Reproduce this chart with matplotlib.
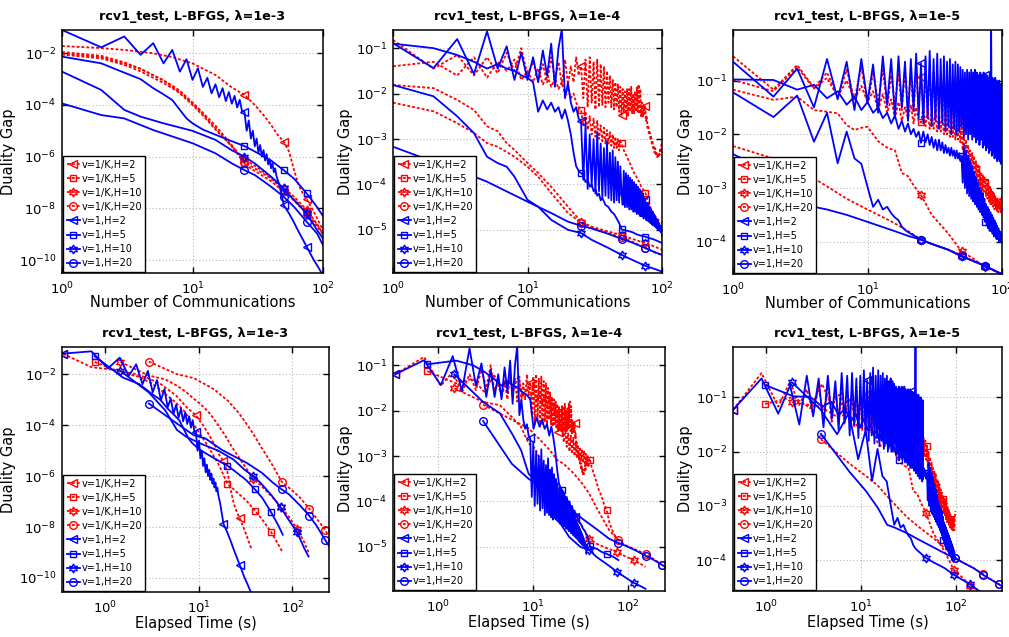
import numpy as np
import matplotlib
matplotlib.use("Agg")
import matplotlib.pyplot as plt
from matplotlib.ticker import NullLocator, FixedLocator, LogFormatterSciNotation

plt.rcParams['font.family'] = ['DejaVu Sans']
plt.rcParams['mathtext.fontset'] = 'dejavusans'

# ------------------------------------------------------------------
# DATA  (duality gap values stored as log10; x = number of communications)
# ------------------------------------------------------------------
H_LIST = [2, 5, 10, 20]
LEGEND_LABELS = ['v=1/K,H=2', 'v=1/K,H=5', 'v=1/K,H=10', 'v=1/K,H=20',
                 'v=1,H=2', 'v=1,H=5', 'v=1,H=10', 'v=1,H=20']
LAMBDA_TEXT = ['1e-3', '1e-4', '1e-5']
ROUNDS_ALL = list(range(1, 101))

# ---------------- lambda = 1e-3 ----------------
e3_red_h2_x = [1, 2, 3, 5, 7, 10, 15, 20, 25, 30, 35, 40, 45, 50, 55, 60, 65, 70, 75, 85, 100]
e3_red_h2_lg = [-1.72, -1.80, -1.87, -2.0, -2.15, -2.39, -2.84, -3.32, -3.61, -4.0, -4.39,
                -4.77, -5.16, -5.42, -5.81, -6.52, -7.1, -7.42, -7.65, -8.13, -8.84]
e3_red_h5_x = [1, 2, 3, 4, 5, 6, 7, 8, 10, 12, 15, 20, 25, 30, 40, 50, 60, 75, 90, 100]
e3_red_h5_lg = [-1.95, -2.1, -2.35, -2.6, -2.85, -3.05, -3.25, -3.45, -3.9, -4.3, -4.8,
                -5.55, -6.3, -6.55, -6.95, -7.35, -7.7, -8.2, -8.7, -9.0]
e3_red_h10_x = [1, 2, 3, 4, 5, 6, 7, 8, 10, 12, 15, 20, 25, 30, 40, 50, 60, 75, 90, 100]
e3_red_h10_lg = [-2.05, -2.2, -2.45, -2.7, -2.95, -3.15, -3.35, -3.55, -4.0, -4.4, -4.95,
                 -5.6, -6.1, -6.35, -6.8, -7.2, -7.55, -8.06, -8.6, -9.0]
e3_red_h20_x = [1, 2, 3, 4, 5, 6, 7, 8, 10, 12, 15, 20, 25, 30, 40, 50, 60, 75, 90, 100]
e3_red_h20_lg = [-2.0, -2.15, -2.4, -2.6, -2.85, -3.05, -3.3, -3.5, -3.95, -4.35, -4.9,
                 -5.6, -6.22, -6.45, -6.85, -7.28, -7.65, -8.13, -8.65, -8.95]
e3_blue_h2_x = list(range(1, 51)) + [55, 60, 65, 70, 75, 80, 85, 90, 95, 100]
e3_blue_h2_lg = [-1.1, -1.77, -1.35, -2.06, -1.61, -2.39, -1.87, -2.71, -2.23, -3.03,
                 -2.58, -3.3, -2.95, -3.55, -3.2, -3.7, -3.35, -3.85, -3.5, -3.95,
                 -3.65, -4.1, -3.8, -4.25, -4.26, -5.0, -4.6, -5.3, -5.0, -5.6,
                 -5.3, -5.85, -5.55, -6.0, -5.75, -6.15, -5.9, -6.3, -6.1, -6.45,
                 -6.25, -6.6, -6.45, -6.75, -6.9, -7.05, -7.25, -7.45, -7.65, -7.87,
                 -8.2, -8.55, -8.9, -9.2, -9.48, -9.75, -10.0, -10.2, -10.4, -10.6]
e3_blue_h5_x = [1, 2, 3, 4, 5, 6, 7, 8, 9, 10, 12, 15, 20, 25, 30, 40, 50, 60, 75, 90, 100]
e3_blue_h5_lg = [-2.13, -2.39, -2.75, -3.0, -3.35, -3.59, -3.81, -4.19, -4.52, -4.71, -4.95,
                 -5.15, -5.4, -5.59, -5.8, -6.15, -6.52, -6.85, -7.42, -7.95, -8.3]
e3_blue_h10_x = [1, 2, 3, 4, 6, 10, 15, 20, 25, 30, 40, 50, 60, 75, 90, 100]
e3_blue_h10_lg = [-2.71, -3.42, -4.19, -4.45, -4.71, -5.0, -5.35, -5.75, -6.0, -6.26,
                  -6.77, -7.23, -7.68, -8.19, -8.84, -9.16]
e3_blue_h20_x = [1, 2, 3, 5, 10, 15, 20, 25, 30, 40, 50, 60, 75, 90, 100]
e3_blue_h20_lg = [-3.94, -4.39, -4.52, -4.97, -5.48, -5.87, -6.26, -6.52, -6.71, -7.16,
                  -7.55, -7.94, -8.52, -8.97, -9.42]
e3_sec_per_round = [0.36, 0.78, 1.47, 2.95]
e3_red_start_lg = [-1.2, -1.52, -1.52, -1.5]
e3_blue_start_lg = [-1.19, -1.29, -1.87, -3.15]

# ---------------- lambda = 1e-4 ----------------
e4_red_h2_x = ROUNDS_ALL
e4_red_h2_lg = [-0.82, -1.45, -1.15, -1.6, -1.2, -1.55, -1.1, -1.5, -1.0, -1.6,
                -1.3, -1.7, -1.35, -1.75, -1.2, -1.7, -1.3, -1.8, -1.25, -1.8,
                -1.4, -1.75, -1.2, -1.6, -1.4, -2.1, -1.25, -2.3, -1.2, -2.2,
                -1.3, -2.35, -1.25, -2.3, -1.35, -2.25, -1.4, -2.3, -1.5, -2.2,
                -1.6, -2.3, -1.7, -2.35, -1.75, -2.3, -1.8, -2.4, -1.85, -2.47,
                -1.9, -2.4, -1.95, -2.45, -1.9, -2.5, -1.9, -2.4, -1.85, -2.45,
                -2.0, -2.45, -1.95, -2.4, -1.85, -2.4, -1.8, -2.45, -1.9, -2.5,
                -2.2, -2.5, -2.25, -2.45, -2.27, -2.6, -2.5, -2.75, -2.7, -2.9,
                -2.85, -3.0, -2.95, -3.1, -3.05, -3.2, -3.15, -3.3, -3.2, -3.35,
                -3.3, -3.4, -3.35, -3.4, -3.3, -3.35, -3.2, -3.3, -3.1, -3.05]
e4_red_h5_x = list(range(1, 51)) + [52, 54, 56, 58, 60, 62, 64, 66, 68, 70, 72, 75,
                                    80, 85, 90, 95, 100]
e4_red_h5_lg = [-1.4, -1.3, -1.6, -1.2, -1.65, -1.3, -1.5, -1.25, -1.7, -1.5,
                -1.75, -1.45, -1.8, -1.6, -1.85, -1.65, -1.9, -1.75, -2.0, -1.9,
                -2.1, -2.0, -2.2, -2.3, -2.36, -2.7, -2.4, -2.8, -2.5, -2.9,
                -2.55, -2.95, -2.6, -3.0, -2.7, -3.05, -2.75, -3.1, -2.8, -3.1,
                -2.85, -3.15, -2.9, -3.2, -2.95, -3.2, -3.0, -3.25, -3.05, -3.09,
                -3.25, -3.35, -3.45, -3.55, -3.65, -3.75, -3.8, -3.9, -3.95, -4.05,
                -4.1, -4.18, -4.45, -4.6, -4.72, -4.8, -4.85]
e4_red_h10_x = [1, 2, 3, 4, 5, 6, 7, 8, 9, 10, 12, 15, 20, 25, 30, 40, 50, 60, 75, 90, 100]
e4_red_h10_lg = [-1.81, -1.88, -2.14, -2.36, -2.72, -2.83, -3.09, -3.24, -3.39, -3.53,
                 -3.75, -4.05, -4.49, -4.82, -4.93, -5.04, -5.11, -5.2, -5.29, -5.38, -5.44]
e4_red_h20_x = [1, 2, 3, 4, 5, 6, 8, 10, 12, 15, 20, 25, 30, 40, 50, 60, 75, 90, 100]
e4_red_h20_lg = [-2.2, -2.39, -2.65, -2.87, -3.09, -3.17, -3.39, -3.61, -3.83, -4.19,
                 -4.63, -4.84, -4.96, -5.07, -5.16, -5.26, -5.4, -5.51, -5.55]
e4_blue_h2_x = ROUNDS_ALL
e4_blue_h2_lg = [-0.89, -1.44, -0.8, -1.57, -0.63, -1.45, -0.96, -1.7, -1.1, -1.7,
                 -1.2, -1.75, -1.05, -1.6, -0.9, -1.85, -1.0, -0.58, -2.1, -1.77,
                 -2.2, -2.4, -2.3, -2.55, -2.61, -3.9, -2.7, -4.1, -2.9, -4.05,
                 -3.0, -4.2, -2.85, -4.15, -3.1, -4.3, -3.2, -4.25, -3.05, -4.3,
                 -3.3, -4.35, -3.25, -4.4, -3.4, -4.35, -3.5, -4.4, -3.6, -4.18,
                 -4.45, -3.7, -4.5, -3.75, -4.5, -3.8, -4.55, -3.85, -4.55, -3.9,
                 -4.6, -3.95, -4.6, -4.0, -4.65, -4.05, -4.65, -4.1, -4.7, -4.15,
                 -4.7, -4.2, -4.75, -4.3, -4.34, -4.78, -4.4, -4.8, -4.45, -4.82,
                 -4.5, -4.85, -4.55, -4.88, -4.6, -4.9, -4.65, -4.92, -4.7, -4.95,
                 -4.75, -4.97, -4.8, -5.0, -4.85, -5.02, -4.9, -5.05, -4.95, -5.15]
e4_blue_h5_x = list(range(1, 37)) + [38, 40, 42, 44, 46, 48, 50, 55, 60, 65, 70, 75,
                                    80, 85, 90, 95, 100]
e4_blue_h5_lg = [-0.9, -1.0, -1.15, -1.3, -1.45, -1.35, -1.45, -1.5, -1.6, -1.65,
                 -1.75, -2.4, -2.15, -2.35, -2.2, -2.4, -2.3, -2.55, -2.35, -2.6,
                 -2.9, -3.3, -3.6, -3.7, -3.75, -3.8, -3.95, -3.9, -4.05, -4.0,
                 -4.15, -4.1, -4.25, -4.2, -4.35, -4.3,
                 -4.45, -4.5, -4.6, -4.65, -4.75, -4.85, -4.99, -5.02, -5.05, -5.1,
                 -5.13, -5.15, -5.18, -5.2, -5.23, -5.26, -5.29]
e4_blue_h10_x = [1, 2, 3, 4, 5, 6, 7, 8, 10, 12, 15, 20, 25, 30, 40, 50, 60, 75, 90, 100]
e4_blue_h10_lg = [-1.81, -2.06, -2.5, -2.87, -3.39, -3.53, -3.61, -3.83, -4.34, -4.49,
                  -4.78, -5.0, -5.07, -5.22, -5.4, -5.55, -5.66, -5.79, -5.87, -5.92]
e4_blue_h20_x = [1, 2, 3, 5, 10, 15, 20, 25, 30, 40, 50, 60, 75, 90, 100]
e4_blue_h20_lg = [-3.17, -3.5, -3.68, -3.94, -4.38, -4.63, -4.82, -4.91, -4.97, -5.09,
                  -5.2, -5.28, -5.4, -5.5, -5.55]
e4_sec_per_round = [0.36, 0.78, 1.5, 3.0]
e4_red_start_lg = [-1.2, -1.13, -1.51, -1.87]
e4_blue_start_lg = [-1.2, -0.98, -1.2, -2.23]

# ---------------- lambda = 1e-5 ----------------
e5_red_h2_x = ROUNDS_ALL
e5_red_h2_lg = [-0.55, -1.17, -0.71, -1.14, -0.85, -1.3, -0.8, -1.35, -0.75, -1.45,
                -0.85, -1.4, -0.8, -1.5, -0.9, -1.45, -0.85, -1.55, -0.8, -1.5,
                -0.9, -1.6, -0.85, -1.5, -0.93, -1.6, -0.85, -1.65, -0.9, -1.55,
                -0.85, -1.7, -0.9, -1.6, -0.95, -1.7, -0.9, -1.65, -0.95, -1.75,
                -0.9, -1.7, -1.0, -1.8, -0.95, -1.75, -1.0, -1.85, -1.0, -1.76,
                -0.95, -1.8, -1.0, -1.9, -0.95, -1.85, -1.0, -1.9, -0.95, -1.8,
                -1.0, -1.9, -0.95, -1.85, -1.0, -1.9, -0.95, -1.8, -1.0, -1.85,
                -0.95, -1.9, -1.0, -1.85, -1.05, -1.9, -1.0, -1.85, -1.05, -1.95,
                -1.0, -1.9, -1.05, -1.95, -1.0, -1.9, -1.05, -2.0, -1.0, -1.95,
                -1.05, -2.0, -1.1, -1.95, -1.05, -2.0, -1.1, -1.95, -1.1, -1.5]
e5_red_h5_x = ROUNDS_ALL
e5_red_h5_lg = [-0.99, -1.2, -0.75, -1.15, -0.95, -1.3, -1.0, -1.35, -1.1, -1.4,
                -1.2, -1.55, -1.25, -1.6, -1.35, -1.7, -1.4, -1.75, -1.5, -1.7,
                -1.45, -1.8, -1.5, -1.75, -1.78, -1.5, -1.85, -1.55, -1.9, -1.6,
                -1.9, -1.55, -1.95, -1.6, -1.95, -1.65, -2.0, -1.6, -2.0, -1.7,
                -2.05, -1.65, -2.05, -1.7, -2.1, -1.75, -2.1, -1.8, -2.15, -1.89,
                -2.3, -2.0, -2.4, -2.1, -2.5, -2.2, -2.6, -2.3, -2.65, -2.35,
                -2.75, -2.4, -2.8, -2.5, -2.9, -2.55, -2.95, -2.6, -3.0, -2.7,
                -3.05, -2.75, -3.1, -2.8, -2.88, -3.15, -2.85, -3.2, -2.9, -3.25,
                -2.95, -3.3, -3.0, -3.3, -3.05, -3.35, -3.1, -3.4, -3.15, -3.4,
                -3.2, -3.45, -3.2, -3.45, -3.25, -3.4, -3.2, -3.45, -3.3, -3.1]
e5_red_h10_x = [1, 2, 3, 4, 5, 6, 7, 8, 9, 10, 12, 14, 16, 18, 20, 22, 25, 30, 40, 50,
                60, 75, 90, 100]
e5_red_h10_lg = [-1.17, -1.36, -1.3, -1.55, -1.58, -1.61, -1.83, -1.92, -1.88, -1.86,
                 -2.13, -2.25, -2.3, -2.72, -2.78, -2.95, -3.13, -3.5, -3.85, -4.18,
                 -4.3, -4.47, -4.55, -4.6]
e5_red_h20_x = [1, 2, 3, 4, 5, 7, 10, 15, 20, 25, 30, 40, 50, 60, 75, 90, 100]
e5_red_h20_lg = [-2.22, -2.45, -2.63, -2.82, -2.97, -3.2, -3.4, -3.62, -3.8, -3.96,
                 -4.04, -4.15, -4.25, -4.35, -4.45, -4.55, -4.6]
e5_blue_h2_x = ROUNDS_ALL
e5_blue_h2_lg = [-0.65, -1.3, -0.78, -1.5, -0.6, -1.35, -0.65, -1.55, -0.6, -1.4,
                 -0.7, -1.6, -0.55, -1.45, -0.6, -1.7, -0.55, -1.5, -0.65, -1.75,
                 -0.6, -1.55, -0.5, -1.7, -0.68, -1.8, -0.55, -1.7, -0.45, -1.85,
                 -0.6, -1.75, -0.5, -1.9, -0.6, -1.8, -0.55, -1.95, -0.65, -1.85,
                 -0.6, -2.0, -0.7, -1.9, -0.65, -2.0, -0.7, -1.95, -0.75, -1.83,
                 -0.8, -2.05, -0.85, -2.0, -0.8, -2.1, -0.85, -2.0, -0.8, -2.1,
                 -0.85, -2.05, -0.8, -2.15, -0.85, -2.1, -0.9, -2.2, -0.85, -2.1,
                 -0.9, -2.25, -0.85, -2.2, -0.89, -2.3, -0.9, -2.25, -0.95, -2.35,
                 -0.9, -2.3, 0.1, -2.4, -0.95, -2.35, -1.0, -2.45, -0.95, -2.4,
                 -1.0, -2.5, -1.05, -2.45, -1.0, -2.5, -1.1, -2.55, -1.05, -2.5]
e5_blue_h5_x = ROUNDS_ALL
e5_blue_h5_lg = [-0.98, -0.99, -1.17, -1.08, -1.33, -1.2, -1.45, -1.3, -1.55, -1.4,
                 -1.6, -1.5, -1.7, -1.6, -1.8, -1.65, -1.9, -1.75, -1.95, -1.8,
                 -2.0, -1.9, -2.05, -1.95, -2.16, -1.95, -2.15, -2.0, -2.2, -2.05,
                 -2.25, -2.1, -2.3, -2.1, -2.3, -2.15, -2.35, -2.2, -2.35, -2.25,
                 -2.4, -2.25, -2.4, -2.3, -2.45, -2.3, -2.45, -2.35, -2.5, -2.4,
                 -2.9, -2.2, -3.0, -2.3, -3.1, -2.4, -3.15, -2.5, -3.2, -2.6,
                 -3.25, -2.7, -3.3, -2.8, -3.35, -2.9, -3.4, -3.0, -3.45, -3.05,
                 -3.5, -3.1, -3.55, -3.2, -3.63, -3.3, -3.7, -3.35, -3.75, -3.4,
                 -3.8, -3.45, -3.8, -3.5, -3.85, -3.55, -3.9, -3.6, -3.9, -3.65,
                 -3.95, -3.7, -3.95, -3.75, -4.0, -3.8, -4.0, -3.85, -4.0, -3.95]
e5_blue_h10_x = list(range(1, 21)) + [22, 25, 30, 40, 50, 60, 75, 90, 100]
e5_blue_h10_lg = [-1.22, -1.68, -1.28, -2.14, -1.6, -2.54, -1.95, -2.45, -2.55, -2.98,
                  -3.35, -3.22, -3.4, -3.35, -3.47, -3.55, -3.6, -3.72, -3.78, -3.82,
                  -3.88, -3.96, -4.04, -4.15, -4.27, -4.35, -4.45, -4.55, -4.6]
e5_blue_h20_x = [1, 2, 3, 4, 5, 7, 10, 15, 20, 25, 30, 40, 50, 60, 75, 90, 100]
e5_blue_h20_lg = [-2.37, -2.73, -3.04, -3.35, -3.4, -3.5, -3.63, -3.78, -3.89, -3.96,
                  -4.04, -4.15, -4.27, -4.35, -4.45, -4.55, -4.6]
e5_sec_per_round = [0.45, 0.98, 1.88, 3.8]
e5_red_start_lg = [-1.23, -1.12, -1.09, -1.77]
e5_blue_start_lg = [-1.23, -0.77, -0.72, -1.67]

# ------------------------------------------------------------------
# Assemble tables from the named arrays
# ------------------------------------------------------------------
PANELS = [
    dict(red=[(e3_red_h2_x, e3_red_h2_lg), (e3_red_h5_x, e3_red_h5_lg),
              (e3_red_h10_x, e3_red_h10_lg), (e3_red_h20_x, e3_red_h20_lg)],
         blue=[(e3_blue_h2_x, e3_blue_h2_lg), (e3_blue_h5_x, e3_blue_h5_lg),
               (e3_blue_h10_x, e3_blue_h10_lg), (e3_blue_h20_x, e3_blue_h20_lg)],
         sec=e3_sec_per_round, red0=e3_red_start_lg, blue0=e3_blue_start_lg),
    dict(red=[(e4_red_h2_x, e4_red_h2_lg), (e4_red_h5_x, e4_red_h5_lg),
              (e4_red_h10_x, e4_red_h10_lg), (e4_red_h20_x, e4_red_h20_lg)],
         blue=[(e4_blue_h2_x, e4_blue_h2_lg), (e4_blue_h5_x, e4_blue_h5_lg),
               (e4_blue_h10_x, e4_blue_h10_lg), (e4_blue_h20_x, e4_blue_h20_lg)],
         sec=e4_sec_per_round, red0=e4_red_start_lg, blue0=e4_blue_start_lg),
    dict(red=[(e5_red_h2_x, e5_red_h2_lg), (e5_red_h5_x, e5_red_h5_lg),
              (e5_red_h10_x, e5_red_h10_lg), (e5_red_h20_x, e5_red_h20_lg)],
         blue=[(e5_blue_h2_x, e5_blue_h2_lg), (e5_blue_h5_x, e5_blue_h5_lg),
               (e5_blue_h10_x, e5_blue_h10_lg), (e5_blue_h20_x, e5_blue_h20_lg)],
         sec=e5_sec_per_round, red0=e5_red_start_lg, blue0=e5_blue_start_lg),
]

# ------------------------------------------------------------------
# Layout / style
# ------------------------------------------------------------------
W, Hpx = 1009, 637
def rect(l, t, r, b):
    return [l / W, 1 - b / Hpx, (r - l) / W, (b - t) / Hpx]

AX_RECTS = [[rect(62, 30, 323, 273), rect(393, 30, 662, 273), rect(733, 30, 1002, 274)],
            [rect(62, 347, 329, 592), rect(393, 347, 665, 591), rect(733, 347, 1002, 591)]]
YLIMS = [(10 ** -10.5, 10 ** -1.1), (10 ** -5.95, 10 ** -0.6), (10 ** -4.6, 10 ** -0.06)]
YLIMS_T = [(10 ** -10.55, 10 ** -0.93), (10 ** -5.97, 10 ** -0.6), (10 ** -4.57, 10 ** -0.07)]
XLIMS_T = [(0.35, 245), (0.34, 243), (0.45, 309)]
YTICK_EXP = [[-10, -8, -6, -4, -2], [-5, -4, -3, -2, -1], [-4, -3, -2, -1]]

MARKERS = ['<', 's', (6, 1, 0), 'o']
MSIZES = [5.5, 5.0, 6.5, 5.5]
RED = '#ff0000'
BLUE = '#0000ff'
RED_LS = (0, (1.6, 1.1))

fig = plt.figure(figsize=(W / 100, Hpx / 100), dpi=100)


def style_axes(ax, ylim, xlim, yexp):
    ax.set_xscale('log')
    ax.set_yscale('log')
    ax.set_xlim(*xlim)
    ax.set_ylim(*ylim)
    ax.yaxis.set_major_locator(FixedLocator([10.0 ** e for e in yexp]))
    ax.yaxis.set_major_formatter(LogFormatterSciNotation())
    ax.xaxis.set_minor_locator(NullLocator())
    ax.yaxis.set_minor_locator(NullLocator())
    ax.tick_params(which='both', direction='in', top=True, right=True,
                   length=4.5, width=1.0, labelsize=9.5)
    ax.tick_params(axis='x', pad=5.5)
    ax.tick_params(axis='y', pad=4)
    ax.grid(True, which='major', linestyle=(0, (1, 2)), color='#b8b8b8', linewidth=0.8)
    ax.set_axisbelow(True)
    for s in ax.spines.values():
        s.set_linewidth(1.1)


def add_legend(ax):
    leg = ax.legend(loc='lower left', fontsize=7.0, frameon=True, fancybox=False,
                    edgecolor='black', framealpha=1, borderaxespad=0.15,
                    handlelength=1.3, handletextpad=0.2, labelspacing=0.42,
                    borderpad=0.35)
    leg.get_frame().set_linewidth(1.0)


for col, panel in enumerate(PANELS):
    title = 'rcv1_test, L-BFGS, \u03bb=' + LAMBDA_TEXT[col]
    ax_c = fig.add_axes(AX_RECTS[0][col])
    ax_t = fig.add_axes(AX_RECTS[1][col])
    groups = [(panel['red'], panel['red0'], RED, RED_LS),
              (panel['blue'], panel['blue0'], BLUE, '-')]
    li = 0
    for series, starts, color, ls in groups:
        for j, (xs, lg) in enumerate(series):
            xs = np.asarray(xs, dtype=float)
            ys = 10.0 ** np.asarray(lg, dtype=float)
            mk_c = [i for i, v in enumerate(xs) if v in (25, 50, 75)]
            ax_c.plot(xs, ys, color=color, linestyle=ls, linewidth=1.3,
                      marker=MARKERS[j], markersize=MSIZES[j], markerfacecolor='none',
                      markeredgewidth=1.0, markevery=mk_c, label=LEGEND_LABELS[li])
            # elapsed-time view: rounds (including the initial point) x seconds per round
            rounds = np.concatenate([[0.0], xs]) + 1.0
            xt = rounds * panel['sec'][j]
            yt = 10.0 ** np.concatenate([[starts[j]], np.asarray(lg, dtype=float)])
            mk_t = [0] + [i + 1 for i in mk_c]
            ax_t.plot(xt, yt, color=color, linestyle=ls, linewidth=1.3,
                      marker=MARKERS[j], markersize=MSIZES[j], markerfacecolor='none',
                      markeredgewidth=1.0, markevery=mk_t, label=LEGEND_LABELS[li])
            li += 1
    style_axes(ax_c, YLIMS[col], (1, 100), YTICK_EXP[col])
    style_axes(ax_t, YLIMS_T[col], XLIMS_T[col], YTICK_EXP[col])
    ax_c.xaxis.set_major_locator(FixedLocator([1, 10, 100]))
    ax_t.xaxis.set_major_locator(FixedLocator([1, 10, 100]))
    ax_c.xaxis.set_major_formatter(LogFormatterSciNotation())
    ax_t.xaxis.set_major_formatter(LogFormatterSciNotation())
    for ax in (ax_c, ax_t):
        ax.set_title(title, fontsize=9.2, fontweight='bold', pad=7)
        ax.set_ylabel('Duality Gap', fontsize=10.5, labelpad=2)
        add_legend(ax)
    ax_c.set_xlabel('Number of Communications', fontsize=10.5, labelpad=-1.5)
    ax_t.set_xlabel('Elapsed Time (s)', fontsize=10.5, labelpad=0)

fig.savefig('out.png', dpi=100)
